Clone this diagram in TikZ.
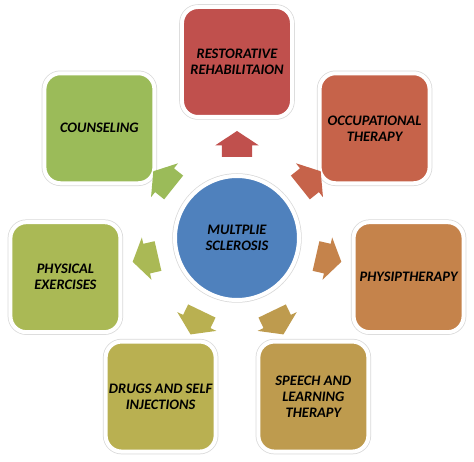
\documentclass[tikz,border=0pt]{standalone}
\usepackage{fontspec}
\setmainfont{Carlito}
\usetikzlibrary{shapes.arrows,shadows}

\definecolor{hubblue}{HTML}{4F81BD}
\definecolor{restred}{HTML}{C0504D}
\definecolor{occured}{HTML}{C6634A}
\definecolor{physorange}{HTML}{C5834B}
\definecolor{speechgold}{HTML}{BE9B4E}
\definecolor{drugolive}{HTML}{B9B051}
\definecolor{exergreen}{HTML}{AAB955}
\definecolor{counsgreen}{HTML}{9BBB59}

\begin{document}
\begin{tikzpicture}[x=1pt,y=1pt,
item/.style={draw=white,line width=4pt,rounded corners=16pt,
  minimum width=110pt,minimum height=110pt,inner sep=2pt,align=center,
  text=black,font=\bfseries\itshape\fontsize{14.5}{16}\selectfont,
  preaction={draw=black!15,line width=5.5pt},
  drop shadow={opacity=0.25,shadow xshift=1pt,shadow yshift=-1.5pt}},
hub/.style={circle,draw=white,line width=4pt,fill=hubblue,
  minimum size=124pt,align=center,text=black,
  font=\bfseries\itshape\fontsize{14.5}{16}\selectfont,
  preaction={draw=black!15,line width=5.5pt},
  drop shadow={opacity=0.25,shadow xshift=1pt,shadow yshift=-1.5pt}},
push/.style={single arrow,draw=none,inner xsep=0pt,inner ysep=15pt,
  minimum height=26pt,single arrow head extend=6.5pt,
  single arrow tip angle=113}]

 \useasboundingbox (-237,-224) rectangle (237,238);

 \node[hub] (ms) at (0,0) {MULTPLIE\\SCLEROSIS};
 % boxes round the hub, clockwise from the top
 \foreach \c/\t [count=\i, evaluate=\i as \a using {90-(\i-1)*360/7}] in
  {restred/{RESTORATIVE\\REHABILITAION},
   occured/{OCCUPATIONAL\\THERAPY},
   physorange/{PHYSIPTHERAPY},
   speechgold/{SPEECH AND\\LEARNING\\THERAPY},
   drugolive/{DRUGS AND SELF\\INJECTIONS},
   exergreen/{PHYSICAL\\EXERCISES},
   counsgreen/{COUNSELING}}
 {
  \node[item,fill=\c] (box\i) at (\a:176) {\t};
  \node[push,fill=\c,rotate=\a] (arr\i) at (\a:89) {};
 }
\end{tikzpicture}
\end{document}
